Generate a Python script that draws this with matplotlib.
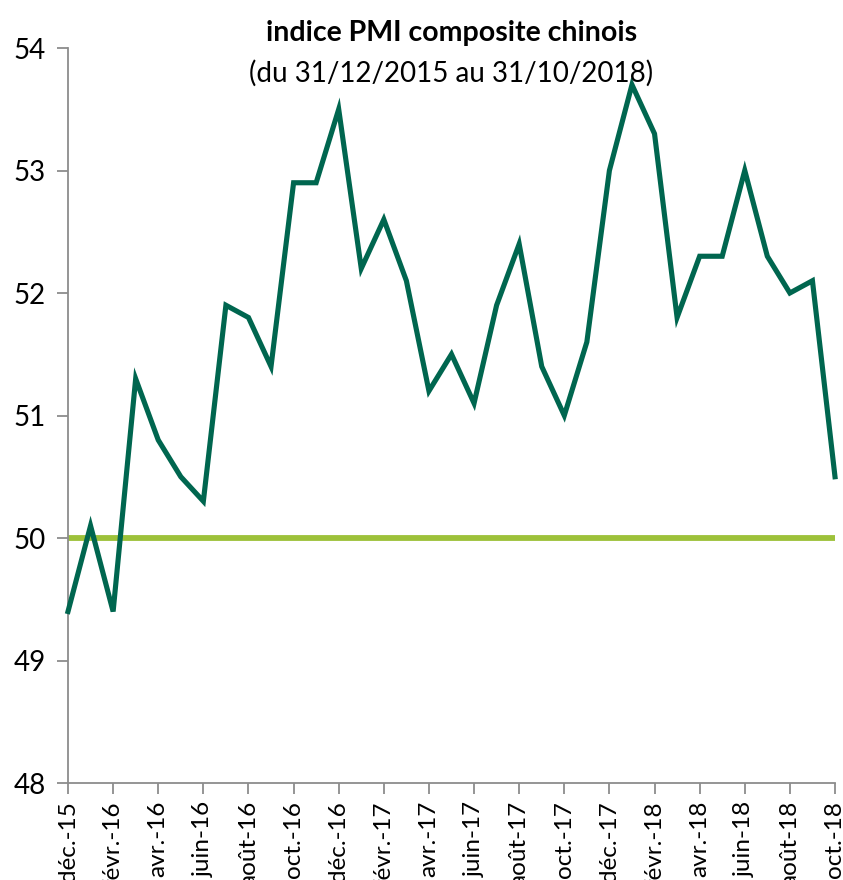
import matplotlib
matplotlib.use("Agg")
import matplotlib.pyplot as plt

# monthly PMI composite, dec 2015 -> oct 2018
months = ["déc.-15", "janv.-16", "févr.-16", "mars-16", "avr.-16", "mai-16", "juin-16",
          "juil.-16", "août-16", "sept.-16", "oct.-16", "nov.-16", "déc.-16",
          "janv.-17", "févr.-17", "mars-17", "avr.-17", "mai-17", "juin-17",
          "juil.-17", "août-17", "sept.-17", "oct.-17", "nov.-17", "déc.-17",
          "janv.-18", "févr.-18", "mars-18", "avr.-18", "mai-18", "juin-18",
          "juil.-18", "août-18", "sept.-18", "oct.-18"]
pmi = [49.4, 50.1, 49.4, 51.3, 50.8, 50.5, 50.3,
       51.9, 51.8, 51.4, 52.9, 52.9, 53.5,
       52.2, 52.6, 52.1, 51.2, 51.5, 51.1,
       51.9, 52.4, 51.4, 51.0, 51.6, 53.0,
       53.7, 53.3, 51.8, 52.3, 52.3, 53.0,
       52.3, 52.0, 52.1, 50.5]
seuil = 50

plt.rcParams['font.family'] = ['Lato', 'DejaVu Sans']

fig = plt.figure(figsize=(8.43, 8.8), dpi=100)
ax = fig.add_axes([68/843, 1-783/880, 767/843, 735/880])

x = list(range(len(months)))
ax.plot(x, [seuil]*len(x), color="#9DC13A", lw=4.2, solid_capstyle="butt", zorder=2)
ax.plot(x, pmi, color="#00664F", lw=3.7, solid_joinstyle="miter", clip_on=False, zorder=3)

ax.set_xlim(0, len(months)-1)
ax.set_ylim(48, 54)
ax.set_yticks([48, 49, 50, 51, 52, 53, 54])
ax.set_xticks(x[::2])
ax.set_xticklabels(months[::2], rotation=90, fontsize=17.5)
ax.tick_params(axis="y", labelsize=20, length=8, width=1.3, color="#8c8c8c", pad=8)
ax.tick_params(axis="x", length=8, width=1.3, color="#8c8c8c", pad=5)

for s in ["top", "right"]:
    ax.spines[s].set_visible(False)
for s in ["left", "bottom"]:
    ax.spines[s].set_color("#8c8c8c")
    ax.spines[s].set_linewidth(1.3)

ax.text(0.5, 1+(48-33)/735, "indice PMI composite chinois", transform=ax.transAxes,
        ha="center", va="center", fontsize=20.5, fontweight="bold")
ax.text(0.5, 1-(73-48)/735, "(du 31/12/2015 au 31/10/2018)", transform=ax.transAxes,
        ha="center", va="center", fontsize=20)

fig.savefig("out.png", dpi=100)
